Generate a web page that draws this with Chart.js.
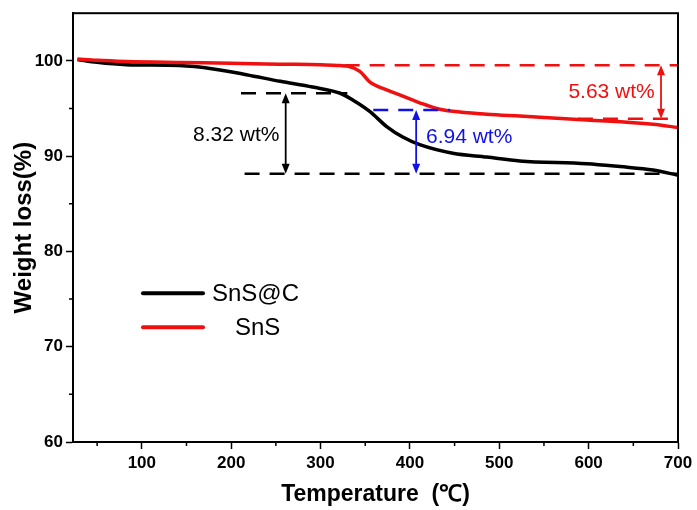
<!DOCTYPE html>
<html>
<head>
<meta charset="utf-8">
<script src="https://cdn.jsdelivr.net/npm/chart.js@4.4.0/dist/chart.umd.min.js"></script>
<style>
html, body { margin: 0; padding: 0; background: #fff; }
#wrap { width: 697px; height: 510px; position: relative; }
</style>
</head>
<body>
<div id="wrap"><canvas id="tga"></canvas></div>
<script>
// TGA curves, values
const tempSnSC = [28, 50, 83, 142, 180, 217, 255, 291, 322, 336, 355, 374, 392, 411, 448, 486, 523, 598, 635, 672, 700];
const weightSnSC = [100.15, 99.85, 99.6, 99.5, 99.15, 98.55, 97.85, 97.25, 96.6, 95.9, 94.7, 93.1, 92.0, 91.2, 90.3, 89.9, 89.5, 89.2, 88.9, 88.55, 88.0];
const tempSnS = [28, 50, 83, 142, 200, 254, 300, 322, 330, 344, 355, 374, 392, 411, 430, 448, 486, 523, 598, 672, 700];
const weightSnS = [100.2, 100.05, 99.93, 99.83, 99.75, 99.65, 99.6, 99.5, 99.45, 98.9, 97.8, 96.95, 96.3, 95.6, 95.0, 94.7, 94.4, 94.2, 93.8, 93.35, 93.0];

// guide levels (weight %) and their temperature spans
const levelSnSCTop = 96.6, levelSnSCBottom = 88.15;
const levelSnSTop = 99.55, levelSnSBottom = 93.92;
const levelCarbon = 94.85;
const spanSnSCTop = [211, 330], spanSnSCBottom = [215, 700];
const spanSnSTop = [327, 700], spanSnSBottom = [588, 700];
const spanCarbon = [359, 445];
const arrowTemps = [261, 407, 681];
const lossLabels = ['8.32 wt%', '6.94 wt%', '5.63 wt%'];
const seriesNames = ['SnS@C', 'SnS'];

const FONT = 'Arial, "Liberation Sans", sans-serif';
const BLUE = '#1010e8', RED = '#f01010';

function pts(xs, ys) { return xs.map((x, i) => ({ x: x, y: ys[i] })); }
function flat(span, y) { return [{ x: span[0], y: y }, { x: span[1], y: y }]; }

function guide(data, color) {
  return { data: data, borderColor: color, borderWidth: 2.5, borderDash: [15, 10], pointRadius: 0, fill: false, order: 0 };
}

// frame, minor ticks, arrows, labels and legend
const extras = {
  id: 'extras',
  afterDraw(chart) {
    const { ctx, chartArea: a, scales: { x, y } } = chart;
    ctx.save();
    ctx.strokeStyle = '#000';
    ctx.lineWidth = 2;
    ctx.strokeRect(a.left, a.top, a.right - a.left, a.bottom - a.top);

    // minor ticks
    ctx.lineWidth = 1.5;
    ctx.beginPath();
    for (let v = 50; v < 700; v += 100) {
      const px = x.getPixelForValue(v);
      ctx.moveTo(px, a.bottom); ctx.lineTo(px, a.bottom + 4);
    }
    for (let v = 65; v < 100; v += 10) {
      const py = y.getPixelForValue(v);
      ctx.moveTo(a.left, py); ctx.lineTo(a.left - 4, py);
    }
    ctx.stroke();

    function arrow(t, y1, y2, color) {
      const px = x.getPixelForValue(t);
      const p1 = y.getPixelForValue(y1), p2 = y.getPixelForValue(y2);
      ctx.strokeStyle = color; ctx.fillStyle = color; ctx.lineWidth = 1.8;
      ctx.beginPath(); ctx.moveTo(px, p1 + 6); ctx.lineTo(px, p2 - 6); ctx.stroke();
      ctx.beginPath(); ctx.moveTo(px, p1); ctx.lineTo(px - 4, p1 + 10); ctx.lineTo(px + 4, p1 + 10); ctx.closePath(); ctx.fill();
      ctx.beginPath(); ctx.moveTo(px, p2); ctx.lineTo(px - 4, p2 - 10); ctx.lineTo(px + 4, p2 - 10); ctx.closePath(); ctx.fill();
    }
    arrow(arrowTemps[0], levelSnSCTop, levelSnSCBottom, '#000');
    arrow(arrowTemps[1], levelCarbon, levelSnSCBottom, BLUE);
    arrow(arrowTemps[2], levelSnSTop, levelSnSBottom, RED);

    ctx.font = '21px ' + FONT;
    ctx.textBaseline = 'middle';
    ctx.textAlign = 'right';
    ctx.fillStyle = '#000';
    ctx.fillText(lossLabels[0], x.getPixelForValue(254), y.getPixelForValue(92.2));
    ctx.textAlign = 'left';
    ctx.fillStyle = BLUE;
    ctx.fillText(lossLabels[1], x.getPixelForValue(418), y.getPixelForValue(92.0));
    ctx.textAlign = 'right';
    ctx.fillStyle = RED;
    ctx.fillText(lossLabels[2], x.getPixelForValue(674), y.getPixelForValue(96.75));

    // legend
    ctx.lineWidth = 4;
    ctx.lineCap = 'round';
    ctx.strokeStyle = '#000';
    ctx.beginPath(); ctx.moveTo(a.left + 70, a.top + 280); ctx.lineTo(a.left + 130, a.top + 280); ctx.stroke();
    ctx.strokeStyle = RED;
    ctx.beginPath(); ctx.moveTo(a.left + 70, a.top + 314); ctx.lineTo(a.left + 130, a.top + 314); ctx.stroke();
    ctx.font = '24px ' + FONT;
    ctx.fillStyle = '#000';
    ctx.textAlign = 'left';
    ctx.fillText(seriesNames[0], a.left + 139, a.top + 281);
    ctx.fillText(seriesNames[1], a.left + 162, a.top + 315);
    ctx.restore();
  }
};

new Chart(document.getElementById('tga'), {
  type: 'line',
  data: {
    datasets: [
      { label: seriesNames[1], data: pts(tempSnS, weightSnS), borderColor: RED, borderWidth: 3.5, pointRadius: 0, cubicInterpolationMode: 'monotone', order: 1 },
      { label: seriesNames[0], data: pts(tempSnSC, weightSnSC), borderColor: '#000', borderWidth: 3.5, pointRadius: 0, cubicInterpolationMode: 'monotone', order: 2 },
      guide(flat(spanSnSCTop, levelSnSCTop), '#000'),
      guide(flat(spanSnSCBottom, levelSnSCBottom), '#000'),
      guide(flat(spanSnSTop, levelSnSTop), RED),
      guide(flat(spanSnSBottom, levelSnSBottom), RED),
      guide(flat(spanCarbon, levelCarbon), BLUE)
    ]
  },
  options: {
    responsive: true,
    maintainAspectRatio: false,
    animation: false,
    layout: { padding: { top: 13, right: 19, left: 0, bottom: 0 } },
    plugins: { legend: { display: false }, tooltip: { enabled: false } },
    scales: {
      x: {
        type: 'linear', min: 23, max: 700,
        afterFit(s) { s.height = 68; },
        afterBuildTicks(s) { s.ticks = s.ticks.filter(t => t.value % 100 === 0); },
        border: { color: '#000', width: 2 },
        grid: { drawOnChartArea: false, drawTicks: true, tickLength: 7, tickColor: '#000', tickWidth: 1.5 },
        ticks: { stepSize: 100, color: '#000', padding: 4, maxRotation: 0, font: { family: FONT, size: 17, weight: 'bold' } },
        title: { display: true, text: 'Temperature  (\u2103)', color: '#000', padding: { top: 4, bottom: 2 }, font: { family: FONT, size: 23, weight: 'bold' } }
      },
      y: {
        min: 60, max: 105,
        afterFit(s) { s.width = 73; },
        afterBuildTicks(s) { s.ticks = s.ticks.filter(t => t.value <= 100 && t.value % 10 === 0); },
        border: { color: '#000', width: 2 },
        grid: { drawOnChartArea: false, drawTicks: true, tickLength: 7, tickColor: '#000', tickWidth: 1.5 },
        ticks: { stepSize: 10, color: '#000', padding: 3, font: { family: FONT, size: 17, weight: 'bold' } },
        title: { display: true, text: 'Weight loss(%)', color: '#000', padding: { top: 10, bottom: 0 }, font: { family: FONT, size: 24, weight: 'bold' } }
      }
    }
  },
  plugins: [extras]
});
</script>
</body>
</html>
